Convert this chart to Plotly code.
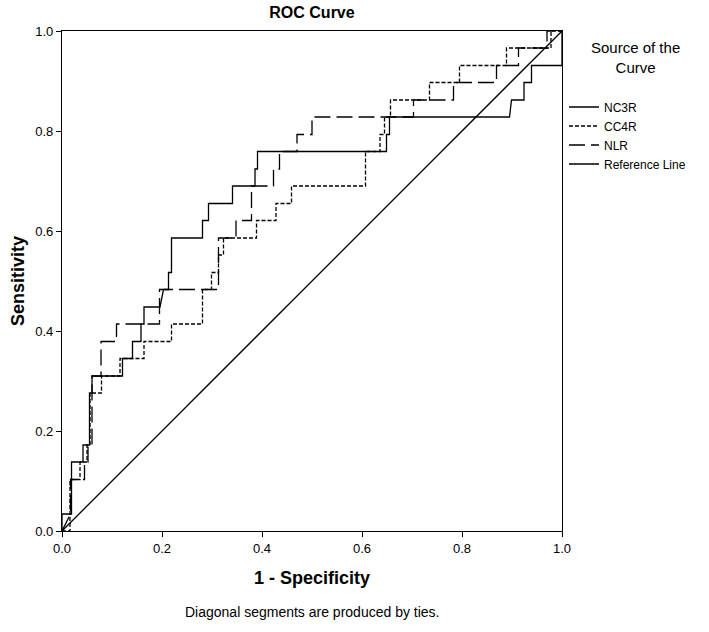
import plotly.graph_objects as go

# ROC coordinates (1 - specificity, sensitivity)
nc3r_fpr = [0.0, 0.0, 0.019, 0.019, 0.042, 0.042, 0.055, 0.055, 0.06, 0.06, 0.121, 0.121, 0.141, 0.141,
            0.158, 0.158, 0.164, 0.164, 0.196, 0.203, 0.213, 0.213, 0.219, 0.219, 0.281, 0.281, 0.293,
            0.293, 0.341, 0.341, 0.386, 0.386, 0.391, 0.391, 0.649, 0.649, 0.655, 0.655, 0.895, 0.899,
            0.924, 0.924, 0.939, 0.939, 1.0, 1.0]
nc3r_tpr = [0.0, 0.034, 0.034, 0.138, 0.138, 0.172, 0.172, 0.276, 0.276, 0.310, 0.310, 0.345, 0.345, 0.379,
            0.379, 0.414, 0.414, 0.448, 0.448, 0.483, 0.483, 0.517, 0.517, 0.586, 0.586, 0.621, 0.621,
            0.655, 0.655, 0.690, 0.690, 0.724, 0.724, 0.759, 0.759, 0.793, 0.793, 0.828, 0.828, 0.862,
            0.862, 0.897, 0.897, 0.931, 0.931, 1.0]

cc4r_fpr = [0.0, 0.016, 0.016, 0.036, 0.036, 0.05, 0.05, 0.056, 0.056, 0.079, 0.079, 0.116, 0.116, 0.164,
            0.164, 0.219, 0.219, 0.281, 0.281, 0.299, 0.299, 0.313, 0.313, 0.323, 0.323, 0.389, 0.389,
            0.428, 0.428, 0.459, 0.459, 0.607, 0.607, 0.636, 0.636, 0.645, 0.645, 0.657, 0.657, 0.735,
            0.735, 0.795, 0.795, 0.889, 0.889, 0.978, 0.978, 1.0]
cc4r_tpr = [0.0, 0.0, 0.103, 0.103, 0.138, 0.138, 0.172, 0.172, 0.276, 0.276, 0.310, 0.310, 0.345, 0.345,
            0.379, 0.379, 0.414, 0.414, 0.483, 0.483, 0.517, 0.517, 0.552, 0.552, 0.586, 0.586, 0.621,
            0.621, 0.655, 0.655, 0.690, 0.690, 0.759, 0.759, 0.793, 0.793, 0.828, 0.828, 0.862, 0.862,
            0.897, 0.897, 0.931, 0.931, 0.966, 0.966, 1.0, 1.0]

nlr_fpr = [0.0, 0.017, 0.017, 0.045, 0.045, 0.052, 0.052, 0.06, 0.06, 0.078, 0.078, 0.109, 0.109, 0.195,
           0.195, 0.313, 0.313, 0.348, 0.348, 0.379, 0.379, 0.423, 0.423, 0.435, 0.435, 0.47, 0.47, 0.50,
           0.50, 0.703, 0.703, 0.783, 0.783, 0.869, 0.869, 0.913, 0.913, 0.97, 0.97, 1.0]
nlr_tpr = [0.0, 0.034, 0.103, 0.103, 0.138, 0.138, 0.172, 0.172, 0.310, 0.310, 0.379, 0.379, 0.414, 0.414,
           0.483, 0.483, 0.586, 0.586, 0.621, 0.621, 0.690, 0.690, 0.724, 0.724, 0.759, 0.759, 0.793,
           0.793, 0.828, 0.828, 0.862, 0.862, 0.897, 0.897, 0.931, 0.931, 0.966, 0.966, 1.0, 1.0]

ref_x = [0.0, 1.0]
ref_y = [0.0, 1.0]

tick_vals = [0.0, 0.2, 0.4, 0.6, 0.8, 1.0]
tick_text = ["0.0", "0.2", "0.4", "0.6", "0.8", "1.0"]

FONT = "Liberation Sans, Arial, sans-serif"

fig = go.Figure()
fig.add_trace(go.Scatter(x=nc3r_fpr, y=nc3r_tpr, mode="lines", name="NC3R",
                         line=dict(color="black", width=1.3)))
fig.add_trace(go.Scatter(x=cc4r_fpr, y=cc4r_tpr, mode="lines", name="CC4R",
                         line=dict(color="black", width=1.3, dash="4px,2px")))
fig.add_trace(go.Scatter(x=nlr_fpr, y=nlr_tpr, mode="lines", name="NLR",
                         line=dict(color="black", width=1.3, dash="16px,6px")))
fig.add_trace(go.Scatter(x=ref_x, y=ref_y, mode="lines", name="Reference Line",
                         line=dict(color="black", width=1.3)))

axis_common = dict(range=[0, 1], tickvals=tick_vals, ticktext=tick_text, showgrid=False,
                   zeroline=False, showline=True, linecolor="black", linewidth=1.3, mirror=True,
                   ticks="outside", ticklen=5, tickcolor="black", tickwidth=1.3, automargin=False,
                   tickfont=dict(family=FONT, size=13, color="black"))

fig.update_xaxes(**axis_common)
fig.update_yaxes(**axis_common)

W, H = 709, 632
fig.update_layout(
    width=W, height=H,
    margin=dict(l=62, r=147, t=31, b=101, autoexpand=False),
    paper_bgcolor="white", plot_bgcolor="white",
    title=dict(text="<b>ROC Curve</b>", x=0.5, xref="paper", y=1 - 12 / H, yref="container",
               xanchor="center", yanchor="middle", font=dict(family=FONT, size=16, color="black")),
    showlegend=True,
    legend=dict(x=1.004, y=0.877, xanchor="left", yanchor="top", tracegroupgap=0,
                font=dict(family=FONT, size=12, color="black"), itemwidth=30,
                bgcolor="rgba(0,0,0,0)"),
    annotations=[
        dict(text="<b>1 - Specificity</b>", x=0.5, y=-0.094, xref="paper", yref="paper",
             xanchor="center", yanchor="middle", showarrow=False,
             font=dict(family=FONT, size=18, color="black")),
        dict(text="<b>Sensitivity</b>", x=-0.088, y=0.5, xref="paper", yref="paper",
             xanchor="center", yanchor="middle", showarrow=False, textangle=-90,
             font=dict(family=FONT, size=18, color="black")),
        dict(text="Source of the<br>Curve", x=1.146, y=0.948, xref="paper", yref="paper",
             xanchor="center", yanchor="middle", showarrow=False, align="center",
             font=dict(family=FONT, size=15, color="black")),
        dict(text="Diagonal segments are produced by ties.", x=0.5, y=-0.162, xref="paper",
             yref="paper", xanchor="center", yanchor="middle", showarrow=False,
             font=dict(family=FONT, size=14, color="black")),
    ],
)

# remove the default 8px page margin so the figure fills the window exactly
fig.write_html("out.html", config={"displayModeBar": False},
               post_script="document.body.style.margin='0';")
